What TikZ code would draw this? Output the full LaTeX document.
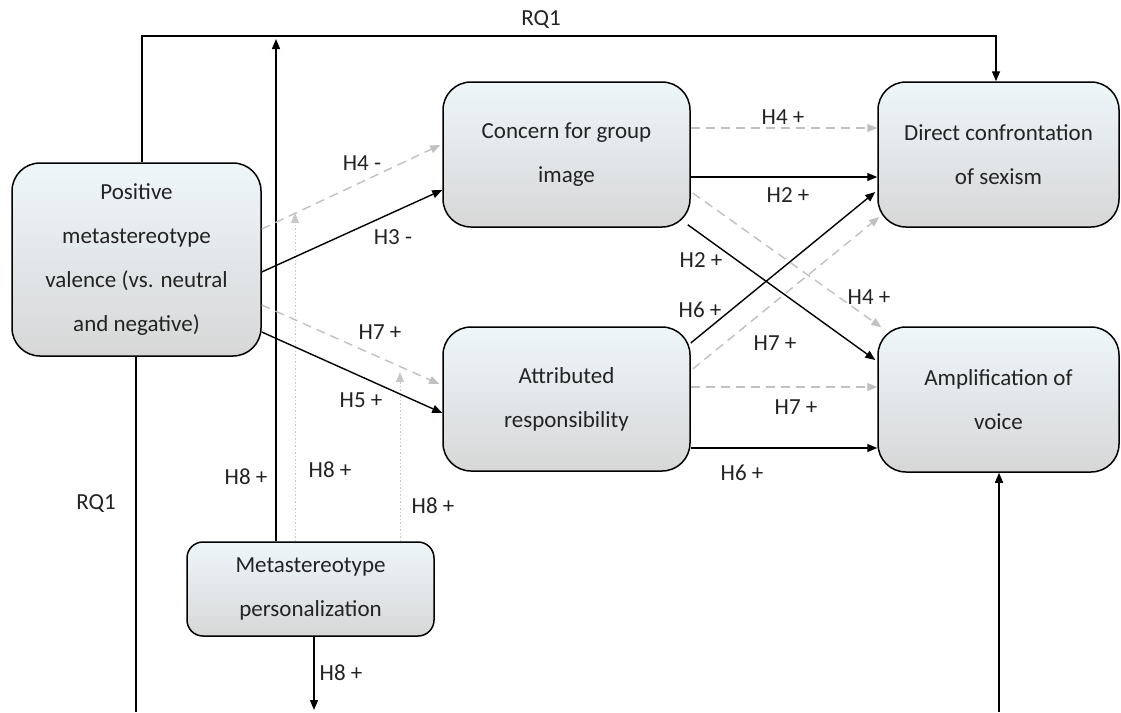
\documentclass[tikz,border=0pt]{standalone}
\usepackage{fontspec}
\setmainfont{Carlito}
\usetikzlibrary{arrows.meta,calc}
\definecolor{boxtop}{RGB}{238,246,250}
\definecolor{boxbot}{RGB}{215,215,215}
\definecolor{dgray}{RGB}{192,192,192}
\definecolor{lgray}{RGB}{200,200,200}
\definecolor{txt}{RGB}{35,35,35}
\begin{document}
\begin{tikzpicture}[x=1pt,y=-1pt,
  box/.style={draw=black, line width=1.5pt, rounded corners=28pt, top color=boxtop, bottom color=boxbot,
    align=center, inner sep=0pt, font=\fontsize{23}{44}\selectfont, text=txt},
  conn/.style={line width=1.4pt, -{Triangle[length=10pt,width=8pt]}},
  plain/.style={line width=1.4pt},
  grayconn/.style={conn, draw=dgray, dash pattern=on 9pt off 6pt},
  dotconn/.style={line width=1pt, draw=lgray, dash pattern=on 1.5pt off 2pt, -{Triangle[length=10pt,width=8pt]}},
  lbl/.style={font=\fontsize{23}{23}\selectfont, text=txt, inner sep=0pt}]
\useasboundingbox (0,0) rectangle (1121,712);

% boxes
\node[box, minimum width=249pt, minimum height=193pt] (A) at (136.5,259.5) {Positive\\metastereotype\\valence (vs. neutral\\and negative)};
\node[box, minimum width=247pt, minimum height=145pt] (B) at (566.5,154.5) {Concern for group\\image};
\node[box, minimum width=241pt, minimum height=145pt] (C) at (998.5,154.5) {Direct confrontation\\of sexism};
\node[box, minimum width=247pt, minimum height=144pt] (D) at (566.5,399) {Attributed\\responsibility};
\node[box, minimum width=241pt, minimum height=145pt] (E) at (998.5,399.5) {Amplification of\\voice};
\node[box, rounded corners=16pt, minimum width=247pt, minimum height=94pt] (F) at (310.5,589) {Metastereotype\\personalization};

% free ends
\coordinate (rqa) at (142,36);
\coordinate (rqb) at (996,36);
\coordinate (h8top) at (276,39);
\coordinate (dot1) at (295,213);
\coordinate (dot2) at (400,372);
\coordinate (fbot) at (314,710);
\coordinate (abot) at (136,712);
\coordinate (ebot) at (999,712);

% RQ1 top path
\draw[conn] ($(A.north)+(5.5,0)$) -- (rqa) -- (rqb) -- ($(C.north)+(-2.5,0)$);
\node[lbl] (lrq1) at (541,20) {RQ1};

% RQ1 bottom lines
\draw[plain] ($(A.south)+(-0.5,0)$) -- (abot);
\node[lbl] (lrq2) at (96,504) {RQ1};
\draw[conn] (ebot) -- ($(E.south)+(0.5,0)$);

% H8 lines
\draw[conn] ($(F.north)+(-34.5,0)$) -- (h8top);
\node[lbl] (l81) at (246,477) {H8 +};
\draw[dotconn] ($(F.north)+(-15.5,0)$) -- (dot1);
\node[lbl] (l82) at (330,470) {H8 +};
\draw[dotconn] ($(F.north)+(89.5,0)$) -- (dot2);
\node[lbl] (l83) at (433,506) {H8 +};
\draw[conn] ($(F.south)+(3.5,0)$) -- (fbot);
\node[lbl] (l84) at (341,673) {H8 +};

% A -> B, A -> D
\draw[grayconn] ($(A.east)+(0,-30.5)$) -- ($(B.west)+(-2,-9.5)$);
\node[lbl] (lh4m) at (362,163) {H4 -};
\draw[conn] ($(A.east)+(0,12.5)$) -- ($(B.west)+(0,35.5)$);
\node[lbl] (lh3m) at (393,237) {H3 -};
\draw[grayconn] ($(A.east)+(0,45.5)$) -- ($(D.west)+(-3,-15)$);
\node[lbl] (lh7a) at (380,332) {H7 +};
\draw[conn] ($(A.east)+(0,72.5)$) -- ($(D.west)+(0,14)$);
\node[lbl] (lh5) at (361,400) {H5 +};

% B -> C, B -> E
\draw[grayconn] ($(B.east)+(0,-26.5)$) -- ($(C.west)+(0,-26.5)$);
\node[lbl] (lh4a) at (783,117) {H4 +};
\draw[conn] ($(B.east)+(0,22.5)$) -- ($(C.west)+(0,22.5)$);
\node[lbl] (lh2a) at (788,195) {H2 +};
\draw[conn] ($(B.south east)+(-3,-3)$) -- ($(E.west)+(-2,-39.5)$);
\node[lbl] (lh2b) at (701,260) {H2 +};
\draw[grayconn] ($(B.east)+(2,38.5)$) -- ($(E.north west)+(4,1)$);
\node[lbl] (lh4b) at (869,297) {H4 +};

% D -> C, D -> E
\draw[conn] ($(D.east)+(0,-56)$) -- ($(C.west)+(-2,37.5)$);
\node[lbl] (lh6a) at (700,310) {H6 +};
\draw[grayconn] ($(D.east)+(2,-30)$) -- ($(C.west)+(2,62.5)$);
\node[lbl] (lh7b) at (775,343) {H7 +};
\draw[grayconn] ($(D.east)+(0,-12)$) -- ($(E.west)+(0,-12.5)$);
\node[lbl] (lh7c) at (796,407) {H7 +};
\draw[conn] ($(D.east)+(0,49)$) -- ($(E.west)+(0,48.5)$);
\node[lbl] (lh6b) at (742,473) {H6 +};
\end{tikzpicture}
\end{document}
